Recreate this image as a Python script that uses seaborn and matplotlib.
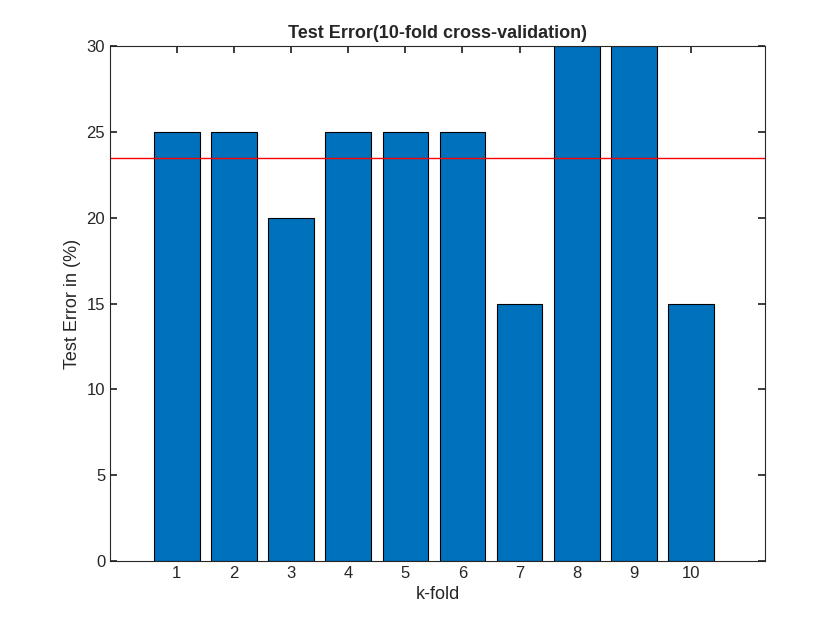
import matplotlib
matplotlib.use("Agg")
import matplotlib.pyplot as plt
import seaborn as sns
import pandas as pd

folds = ["1", "2", "3", "4", "5", "6", "7", "8", "9", "10"]
test_error = [25, 25, 20, 25, 25, 25, 15, 30, 30, 15]
mean_error = sum(test_error) / len(test_error)

sns.set_theme(style="white")
plt.rcParams["font.family"] = ["Liberation Sans", "DejaVu Sans"]

df = pd.DataFrame({"fold": folds, "err": test_error})
fig = plt.figure(figsize=(8.4, 6.3), dpi=100)
ax = fig.add_axes([0.131, 0.1095, 0.780, 0.8175])
sns.barplot(data=df, x="fold", y="err", color="#0072BD", saturation=1,
            edgecolor="black", linewidth=0.8, width=0.8, ax=ax)
ax.axhline(mean_error, color="red", linewidth=1)
ax.set_xlim(-1.17, 10.3)
ax.set_ylim(0, 30)
ax.set_yticks([0, 5, 10, 15, 20, 25, 30])
ax.tick_params(direction="in", length=5, labelsize=12, colors="#262626",
               top=True, right=True, bottom=True, left=True)
for s in ax.spines.values():
    s.set_color("#262626")
    s.set_linewidth(0.8)
ax.set_xlabel("k-fold", fontsize=13, color="#262626")
ax.set_ylabel("Test Error in (%)", fontsize=13, color="#262626")
ax.set_title("Test Error(10-fold cross-validation)", fontsize=13, fontweight="bold")
fig.savefig("out.png", dpi=100)
